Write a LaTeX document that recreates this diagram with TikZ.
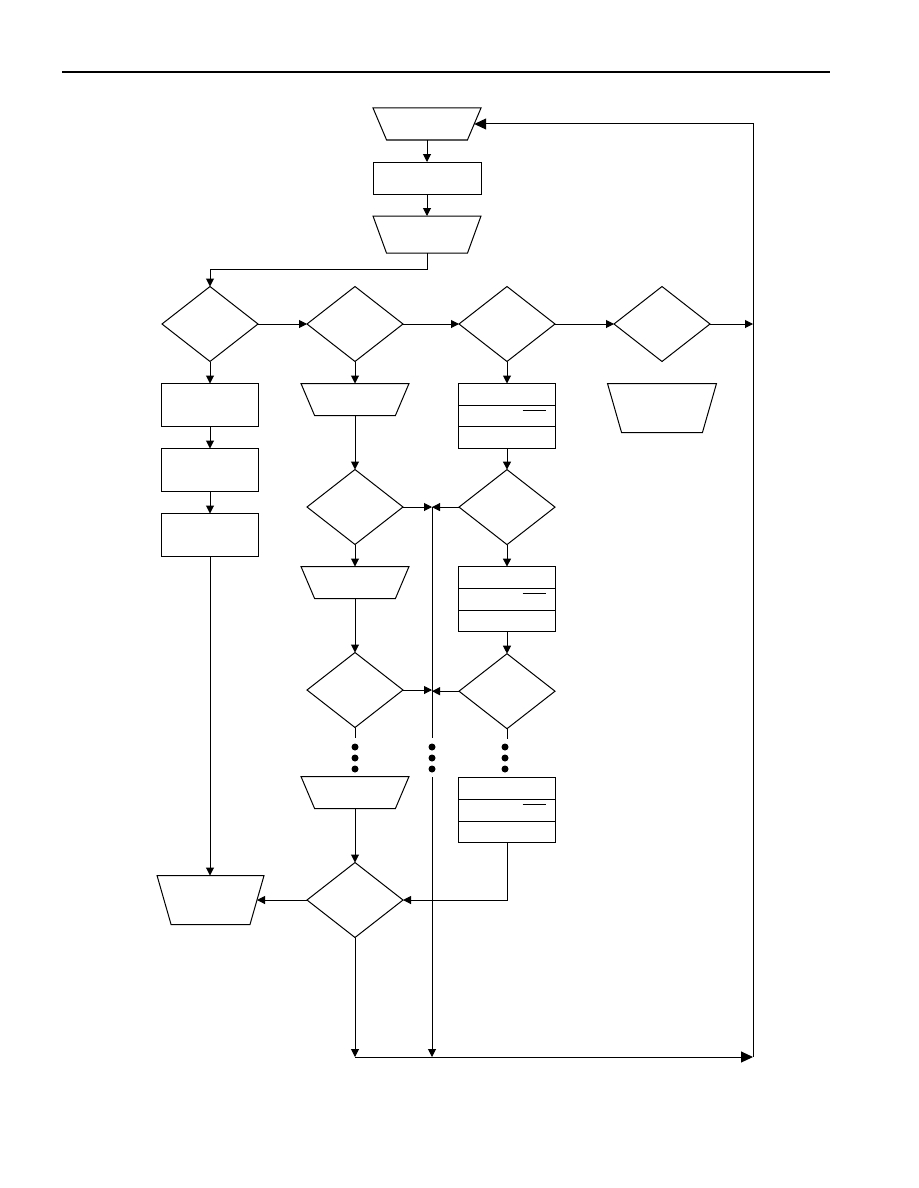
\documentclass[tikz,border=0pt]{standalone}
\usepackage{tikz}
\usetikzlibrary{shapes.geometric,shapes.multipart,positioning,arrows.meta}

\tikzset{
  decision/.style={diamond, draw, minimum width=96pt, minimum height=75pt},
  procbox/.style={rectangle, draw, minimum width=97pt, minimum height=43pt},
  iobox/.style={trapezium, draw, trapezium stretches body, shape border rotate=180,
    trapezium angle=67, minimum width=108pt, inner xsep=0pt, inner ysep=16pt},
  iotall/.style={iobox, trapezium angle=74, inner ysep=24.5pt},
  splitbox/.style={rectangle split, rectangle split parts=3, draw, minimum width=97pt,
    rectangle split empty part height=20.7pt, rectangle split empty part depth=0pt},
  bigtip/.style={-{Triangle[length=12pt,width=11pt]}}
}

\begin{document}
\begin{tikzpicture}[
      x=1pt, y=-1pt,
      nodes={inner sep=0pt, outer sep=0pt},
      line width=1pt, node distance=22pt,
      >={Triangle[length=8pt,width=8pt]}
      ]
      \useasboundingbox (0,0) rectangle (918,1188);
      \draw[line width=2pt] (62,72) -- (830,72);

      \node[iobox] (t1) at (427,124) {};
      \node[procbox, minimum width=108pt, minimum height=32pt, below=of t1] (r1) {};
      \node[iobox, inner ysep=18.5pt, trapezium angle=70, below=of r1] (t2) {};

      \node[decision] (d1) at (210,324) {};
      \node[decision] (d2) at (355,324) {};
      \node[decision] (d3) at (507,324) {};
      \node[decision] (d4) at (662,324) {};

      \node[procbox, below=of d1] (a1) {};
      \node[procbox, below=of a1] (a2) {};
      \node[procbox, below=of a2] (a3) {};

      \node[iobox, below=of d2] (b1) {};
      \node[decision, below=54pt of b1] (d5) {};
      \node[iobox, below=of d5] (b2) {};
      \node[decision, below=54pt of b2] (d7) {};
      \node[iobox, below=49pt of d7] (b3) {};
      \node[decision, below=54pt of b3] (d9) {};
      \node[iotall, minimum width=107pt, left=50pt of d9] (l1) {};

      \node[splitbox, below=of d3] (c1) {};
      \node[decision, below=21pt of c1] (d6) {};
      \node[splitbox, below=of d6] (c2) {};
      \node[decision, below=of c2] (d8) {};
      \node[splitbox, below=49pt of d8] (c3) {};

      \node[iotall, minimum width=109pt, below=of d4] (t4) {};

      \coordinate (m1) at (432,507);
      \coordinate (m2) at (432,691);
      \coordinate (m3) at (432,738);
      \coordinate (m4) at (432,777);
      \coordinate (j1) at (355,1057);
      \coordinate (j2) at (432,1057);
      \coordinate (j3) at (753,1057);
      \coordinate (j5) at (753,324);

  % Connect the nodes
  \draw[->] (t1) -- (r1);
  \draw[->] (r1) -- (t2);
  \draw[->] (t2.south) -- ++(0,16) -| (d1.north);
  \draw[->] (d1) -- (d2);
  \draw[->] (d2) -- (d3);
  \draw[->] (d3) -- (d4);
  \draw[->] (d4) -- (j5);
  \draw[->] (d1) -- (a1);
  \draw[->] (a1) -- (a2);
  \draw[->] (a2) -- (a3);
  \draw[->] (a3.south) -- (a3.south |- l1.north);
  \draw[->] (d2) -- (b1);
  \draw[->] (b1) -- (d5);
  \draw[->] (d5) -- (b2);
  \draw[->] (b2) -- (d7);
  \draw[->] (b3) -- (d9);
  \draw[->] (d3) -- (c1);
  \draw[->] (c1) -- (d6);
  \draw[->] (d6) -- (c2);
  \draw[->] (c2) -- (d8);
  \draw[->] (c3.south) |- (d9.east);
  \draw[->] (d9) -- (l1.east |- d9);
  \draw[->] (d5.east) -- (d5.east -| m1);
  \draw[->] (d6.west) -- (d6.west -| m1);
  \draw[->] (d7.east) -- (d7.east -| m2);
  \draw[->] (d8.west) -- (d8.west -| m2);
  \draw (m1) -- (m3);
  \draw[->] (m4) -- (j2);
  \draw (d7.south) -- ++(0,10);
  \draw (d8.south) -- ++(0,10);
  \draw[->] (d9.south) -- (j1);
  \draw[bigtip] (j1) -- (j3);
  \draw[bigtip] (j3) |- (t1.east);

  \foreach \n in {c1,c2,c3}
    \draw ([xshift=-33pt,yshift=-5pt]\n.text split east) -- ++(23,0);
  \foreach \x in {355,432,505}
    \foreach \y in {747,758,769}
      \fill (\x,\y) circle (3.5pt);

\end{tikzpicture}
\end{document}
